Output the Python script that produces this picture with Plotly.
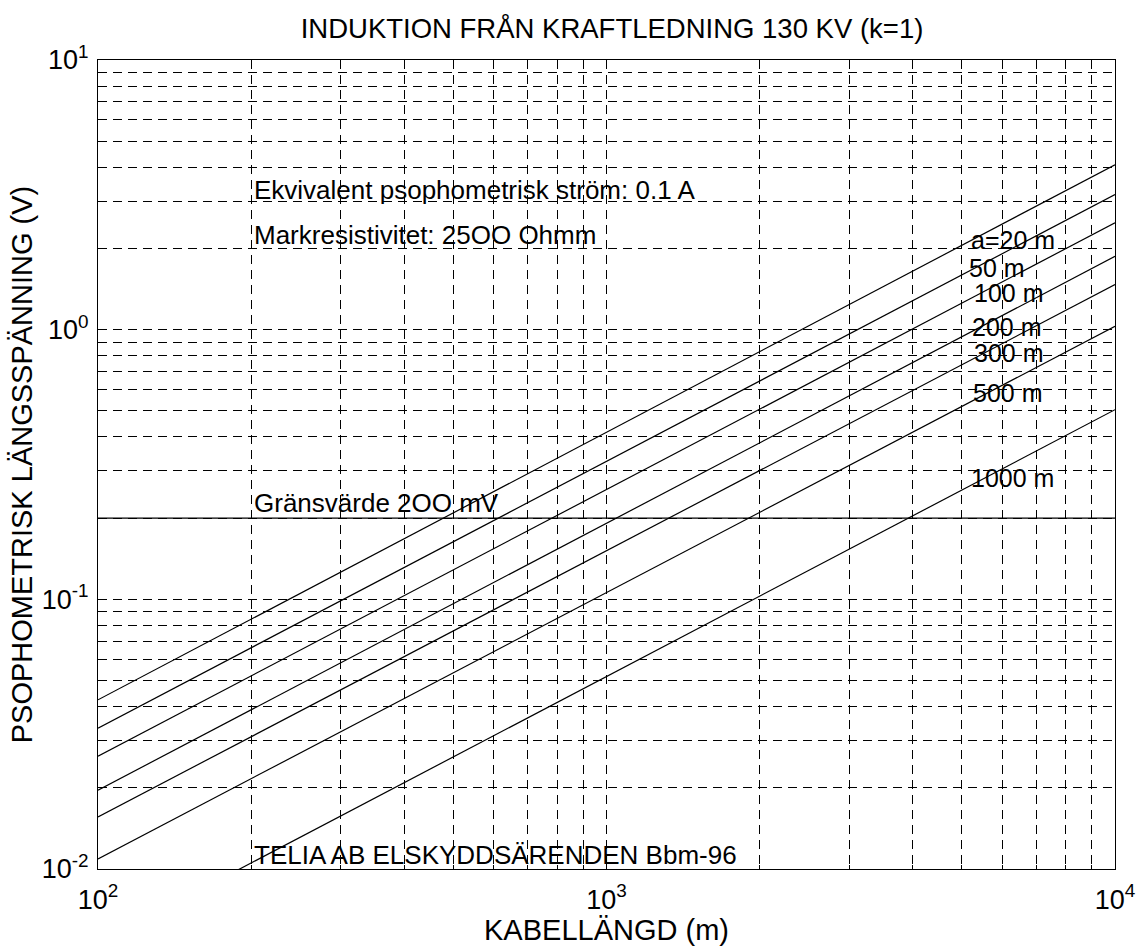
import plotly.graph_objects as go

# Cable length range (m) and induced psophometric voltage (V) at each end
cable_length = [100, 10000]
distance_labels = ["a=20 m", "50 m", "100 m", "200 m", "300 m", "500 m", "1000 m"]
voltage_at_100m = [0.0424, 0.0333, 0.0262, 0.0196, 0.0156, 0.0109, 0.0053]
voltage_at_10km = [4.09, 3.17, 2.49, 1.87, 1.47, 1.03, 0.505]
limit_voltage = 0.2

x_tickvals = [100, 1000, 10000]
x_ticktext = ["10<sup>2</sup>", "10<sup>3</sup>", "10<sup>4</sup>"]
y_tickvals = [0.01, 0.1, 1, 10]
y_ticktext = ["10<sup>-2</sup>", "10<sup>-1</sup>", "10<sup>0</sup>", "10<sup>1</sup>"]

# intermediate decade lines (2..9 within each decade)
x_minor = [m * d for d in (100, 1000) for m in range(2, 10)]
y_minor = [m * d for d in (0.01, 0.1, 1) for m in range(2, 10)]

FONT = "Liberation Sans, Arial, sans-serif"
W, H = 1147, 949
L, R, T, B = 98, 21, 60, 80
PW, PH = W - L - R, H - T - B


def px(x, y):
    """Pixel position inside the figure -> paper coordinates."""
    return (x - L) / PW, (H - B - y) / PH


fig = go.Figure()

for name, v0, v1 in zip(distance_labels, voltage_at_100m, voltage_at_10km):
    fig.add_trace(go.Scatter(
        x=cable_length, y=[v0, v1], mode="lines", name=name,
        line=dict(color="black", width=1.2), showlegend=False,
    ))

fig.add_trace(go.Scatter(
    x=cable_length, y=[limit_voltage, limit_voltage], mode="lines",
    line=dict(color="black", width=1.2), showlegend=False,
))

# notes inside the plot
notes = [
    ("Ekvivalent psophometrisk ström: 0.1 A", 255, 190),
    ("Markresistivitet: 25OO Ohmm", 255, 235),
    ("Gränsvärde 2OO mV", 255, 503),
    ("TELIA AB ELSKYDDSÄRENDEN Bbm-96", 255, 855),
]
for text, x, y in notes:
    ax, ay = px(x, y)
    fig.add_annotation(
        x=ax, y=ay, xref="paper", yref="paper", text=text, showarrow=False,
        xanchor="left", yanchor="middle", borderpad=0,
        font=dict(family=FONT, size=26, color="black"),
    )

# distance labels next to the line ends
label_pos = [(979, 240), (977, 268), (982, 293), (980, 327), (982, 353), (981, 393), (979, 478)]
for text, (x, y) in zip(distance_labels, label_pos):
    ax, ay = px(x, y)
    fig.add_annotation(
        x=ax, y=ay, xref="paper", yref="paper", text=text, showarrow=False,
        xanchor="left", yanchor="middle", borderpad=0,
        font=dict(family=FONT, size=25, color="black"),
    )

dash = "9px,6px"
grid = dict(
    showgrid=True, gridcolor="black", gridwidth=1, griddash=dash,
    showline=True, linecolor="black", linewidth=1.2, mirror=True,
    ticks="inside", ticklen=6, tickcolor="black",
    zeroline=False, tickfont=dict(family=FONT, size=27, color="black"),
)

fig.update_xaxes(
    type="log", range=[2, 4], tickvals=x_tickvals, ticktext=x_ticktext,
    ticklabelstandoff=6,
    minor=dict(tickvals=x_minor, showgrid=True, gridcolor="black", gridwidth=1, griddash=dash,
               ticks="inside", ticklen=4, tickcolor="black"),
    title=dict(text="KABELLÄNGD (m)", font=dict(family=FONT, size=29, color="black"), standoff=2),
    **grid,
)
fig.update_yaxes(
    type="log", range=[-2, 1], tickvals=y_tickvals, ticktext=y_ticktext,
    ticklabelstandoff=3,
    minor=dict(tickvals=y_minor, showgrid=True, gridcolor="black", gridwidth=1, griddash=dash,
               ticks="inside", ticklen=4, tickcolor="black"),
    title=dict(text="PSOPHOMETRISK LÄNGSSPÄNNING (V)", font=dict(family=FONT, size=29, color="black"), standoff=0),
    **grid,
)

fig.update_layout(
    width=W, height=H,
    margin=dict(l=L, r=R, t=T, b=B),
    paper_bgcolor="white", plot_bgcolor="white",
    title=dict(text="INDUKTION FRÅN KRAFTLEDNING 130 KV (k=1)", x=(L + PW / 2) / W, xanchor="center",
               y=1 - 28 / H, yanchor="middle", font=dict(family=FONT, size=27.5, color="black")),
    font=dict(family=FONT, color="black"),
)

fig.write_html("out.html")
